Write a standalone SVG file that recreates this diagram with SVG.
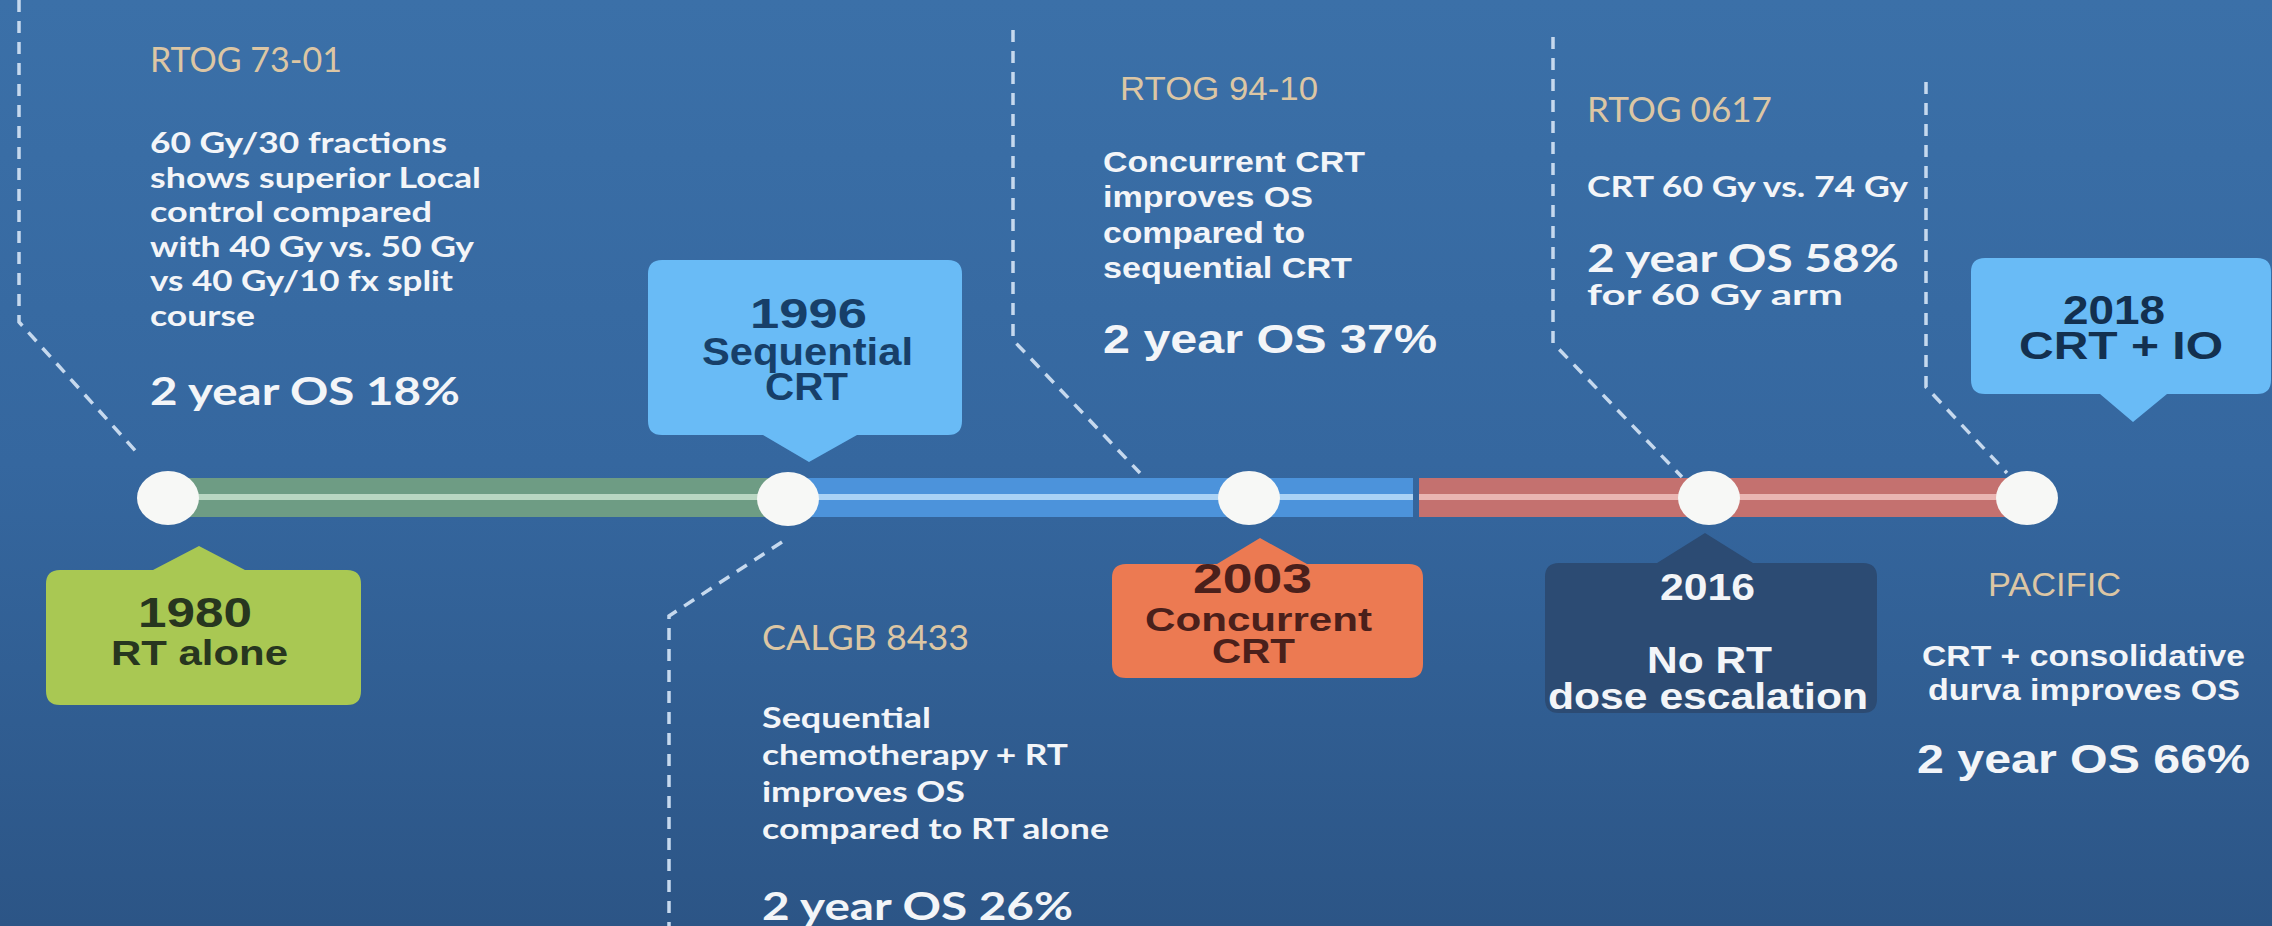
<svg xmlns="http://www.w3.org/2000/svg" width="2272" height="926" viewBox="0 0 2272 926">
  <defs>
    <linearGradient id="bg" x1="0" y1="0" x2="0" y2="1">
      <stop offset="0" stop-color="#3b70a8"/>
      <stop offset="0.5" stop-color="#35679f"/>
      <stop offset="1" stop-color="#2c5586"/>
    </linearGradient>
    <style>
      .dash { fill: none; stroke: #c6d9ee; stroke-width: 3.5; stroke-dasharray: 12 9; }
      .title { font-family: Lato, "Liberation Sans", sans-serif; font-size: 34px; fill: #dcc6a4; }
      .titleS { font-family: "Liberation Sans", Arial, sans-serif; font-size: 34px; fill: #dcc6a4; }
      .body { font-family: Lato, "Liberation Sans", sans-serif; font-weight: 700; font-size: 28px; fill: #f3f5f8; }
      .bodyS { font-family: "Liberation Sans", Arial, sans-serif; font-weight: 700; font-size: 30px; fill: #f3f5f8; }
      .os { font-family: Lato, "Liberation Sans", sans-serif; font-weight: 700; font-size: 39px; fill: #f3f5f8; }
      .osS { font-family: "Liberation Sans", Arial, sans-serif; font-weight: 700; font-size: 41px; fill: #f3f5f8; }
      .lab { font-family: "Liberation Sans", Arial, sans-serif; font-weight: 700; }
      .dot { fill: #f7f8f6; }
    </style>
  </defs>

  <rect x="0" y="0" width="2272" height="926" fill="url(#bg)"/>

  <!-- dashed leader lines from each study note to its point on the line -->
  <g id="connectors">
    <path class="dash" d="M19,0 V322 L141,457"/>
    <path class="dash" d="M782,542 L669,616 V926"/>
    <path class="dash" d="M1013,30 V340 L1140,473"/>
    <path class="dash" d="M1553,37 V343 L1682,477"/>
    <path class="dash" d="M1926,82 V387 L2007,473"/>
  </g>

  <!-- timeline bar, three eras -->
  <g id="timeline">
    <rect x="168" y="478" width="619" height="39" fill="#6e9c84"/>
    <rect x="168" y="494" width="619" height="6" fill="#b9d6c2"/>
    <rect x="787" y="478" width="626" height="39" fill="#4c93db"/>
    <rect x="787" y="494" width="626" height="6" fill="#aad2f5"/>
    <rect x="1419" y="478" width="591" height="39" fill="#c4716f"/>
    <rect x="1419" y="494" width="591" height="6" fill="#eab5b2"/>
  </g>

  <!-- milestone points -->
  <g id="points">
    <ellipse class="dot" cx="168" cy="498" rx="31" ry="27"/>
    <ellipse class="dot" cx="788" cy="499" rx="31" ry="27"/>
    <ellipse class="dot" cx="1249" cy="498" rx="31" ry="27"/>
    <ellipse class="dot" cx="1709" cy="498" rx="31" ry="27"/>
    <ellipse class="dot" cx="2027" cy="498" rx="31" ry="27"/>
  </g>

  <!-- era callouts -->
  <g id="era-1980">
    <path d="M60,570 H153 L199,546 L245,570 H347 Q361,570 361,584 V691 Q361,705 347,705 H60 Q46,705 46,691 V584 Q46,570 60,570 Z" fill="#a9c853"/>
    <text class="lab" x="138" y="627" font-size="42" fill="#27361f" textLength="114" lengthAdjust="spacingAndGlyphs">1980</text>
    <text class="lab" x="111" y="665" font-size="35" fill="#27361f" textLength="177" lengthAdjust="spacingAndGlyphs">RT alone</text>
  </g>

  <g id="era-1996">
    <path d="M662,260 H948 Q962,260 962,274 V421 Q962,435 948,435 H857 L809,462 L763,435 H662 Q648,435 648,421 V274 Q648,260 662,260 Z" fill="#69bbf6"/>
    <text class="lab" x="750" y="328" font-size="43" fill="#173f69" textLength="117" lengthAdjust="spacingAndGlyphs">1996</text>
    <text class="lab" x="702" y="365" font-size="38" fill="#173f69" textLength="211" lengthAdjust="spacingAndGlyphs">Sequential</text>
    <text class="lab" x="765" y="400" font-size="38" fill="#173f69" textLength="83" lengthAdjust="spacingAndGlyphs">CRT</text>
  </g>

  <g id="era-2003">
    <path d="M1126,564 H1217 L1260,538 L1307,564 H1409 Q1423,564 1423,578 V664 Q1423,678 1409,678 H1126 Q1112,678 1112,664 V578 Q1112,564 1126,564 Z" fill="#ec7a52"/>
    <text class="lab" x="1193" y="593" font-size="43" fill="#4a201b" textLength="119" lengthAdjust="spacingAndGlyphs">2003</text>
    <text class="lab" x="1145" y="631" font-size="33" fill="#4a201b" textLength="227" lengthAdjust="spacingAndGlyphs">Concurrent</text>
    <text class="lab" x="1212" y="663" font-size="35" fill="#4a201b" textLength="83" lengthAdjust="spacingAndGlyphs">CRT</text>
  </g>

  <g id="era-2016">
    <path d="M1559,563 H1657 L1705,533 L1753,563 H1863 Q1877,563 1877,577 V699 Q1877,713 1863,713 H1559 Q1545,713 1545,699 V577 Q1545,563 1559,563 Z" fill="#2c4b73"/>
    <text class="lab" x="1660" y="600" font-size="37" fill="#f3f5f8" textLength="95" lengthAdjust="spacingAndGlyphs">2016</text>
    <text class="lab" x="1647" y="673" font-size="36" fill="#f3f5f8" textLength="125" lengthAdjust="spacingAndGlyphs">No RT</text>
    <text class="lab" x="1548" y="709" font-size="36" fill="#f3f5f8" textLength="320" lengthAdjust="spacingAndGlyphs">dose escalation</text>
  </g>

  <g id="era-2018">
    <path d="M1985,258 H2257 Q2271,258 2271,272 V380 Q2271,394 2257,394 H2167 L2133,422 L2100,394 H1985 Q1971,394 1971,380 V272 Q1971,258 1985,258 Z" fill="#69bbf6"/>
    <text class="lab" x="2063" y="324" font-size="40" fill="#13304f" textLength="102" lengthAdjust="spacingAndGlyphs">2018</text>
    <text class="lab" x="2019" y="359" font-size="38" fill="#13304f" textLength="204" lengthAdjust="spacingAndGlyphs">CRT + IO</text>
  </g>

  <!-- study notes -->
  <g id="rtog-7301">
    <text class="title" x="150" y="72" textLength="192" lengthAdjust="spacingAndGlyphs">RTOG 73-01</text>
    <text class="body" x="150" y="153" textLength="297" lengthAdjust="spacingAndGlyphs">60 Gy/30 fractions</text>
    <text class="body" x="150" y="188" textLength="331" lengthAdjust="spacingAndGlyphs">shows superior Local</text>
    <text class="body" x="150" y="222" textLength="282" lengthAdjust="spacingAndGlyphs">control compared</text>
    <text class="body" x="150" y="257" textLength="324" lengthAdjust="spacingAndGlyphs">with 40 Gy vs. 50 Gy</text>
    <text class="body" x="150" y="291" textLength="303" lengthAdjust="spacingAndGlyphs">vs 40 Gy/10 fx split</text>
    <text class="body" x="150" y="326" textLength="105" lengthAdjust="spacingAndGlyphs">course</text>
    <text class="os" x="150" y="405" textLength="310" lengthAdjust="spacingAndGlyphs">2 year OS 18%</text>
  </g>

  <g id="calgb-8433">
    <text class="title" x="762" y="650" textLength="207" lengthAdjust="spacingAndGlyphs">CALGB 8433</text>
    <text class="body" x="762" y="728" textLength="169" lengthAdjust="spacingAndGlyphs">Sequential</text>
    <text class="body" x="762" y="765" textLength="306" lengthAdjust="spacingAndGlyphs">chemotherapy + RT</text>
    <text class="body" x="762" y="802" textLength="203" lengthAdjust="spacingAndGlyphs">improves OS</text>
    <text class="body" x="762" y="839" textLength="347" lengthAdjust="spacingAndGlyphs">compared to RT alone</text>
    <text class="os" x="762" y="920" textLength="311" lengthAdjust="spacingAndGlyphs">2 year OS 26%</text>
  </g>

  <g id="rtog-9410">
    <text class="titleS" x="1120" y="100" textLength="198" lengthAdjust="spacingAndGlyphs">RTOG 94-10</text>
    <text class="bodyS" x="1103" y="172" textLength="262" lengthAdjust="spacingAndGlyphs">Concurrent CRT</text>
    <text class="bodyS" x="1103" y="207" textLength="210" lengthAdjust="spacingAndGlyphs">improves OS</text>
    <text class="bodyS" x="1103" y="243" textLength="202" lengthAdjust="spacingAndGlyphs">compared to</text>
    <text class="bodyS" x="1103" y="278" textLength="249" lengthAdjust="spacingAndGlyphs">sequential CRT</text>
    <text class="osS" x="1103" y="353" textLength="334" lengthAdjust="spacingAndGlyphs">2 year OS 37%</text>
  </g>

  <g id="rtog-0617">
    <text class="title" x="1587" y="122" textLength="185" lengthAdjust="spacingAndGlyphs">RTOG 0617</text>
    <text class="body" x="1587" y="197" font-size="32" textLength="321" lengthAdjust="spacingAndGlyphs">CRT 60 Gy vs. 74 Gy</text>
    <text class="os" x="1587" y="272" font-size="40" textLength="312" lengthAdjust="spacingAndGlyphs">2 year OS 58%</text>
    <text class="body" x="1587" y="305" font-size="32" textLength="256" lengthAdjust="spacingAndGlyphs">for 60 Gy arm</text>
  </g>

  <g id="pacific">
    <text class="titleS" x="1988" y="596" textLength="133" lengthAdjust="spacingAndGlyphs">PACIFIC</text>
    <text class="bodyS" x="1922" y="666" font-size="29" textLength="323" lengthAdjust="spacingAndGlyphs">CRT + consolidative</text>
    <text class="bodyS" x="1928" y="700" font-size="29" textLength="312" lengthAdjust="spacingAndGlyphs">durva improves OS</text>
    <text class="osS" x="1917" y="773" textLength="333" lengthAdjust="spacingAndGlyphs">2 year OS 66%</text>
  </g>
</svg>
